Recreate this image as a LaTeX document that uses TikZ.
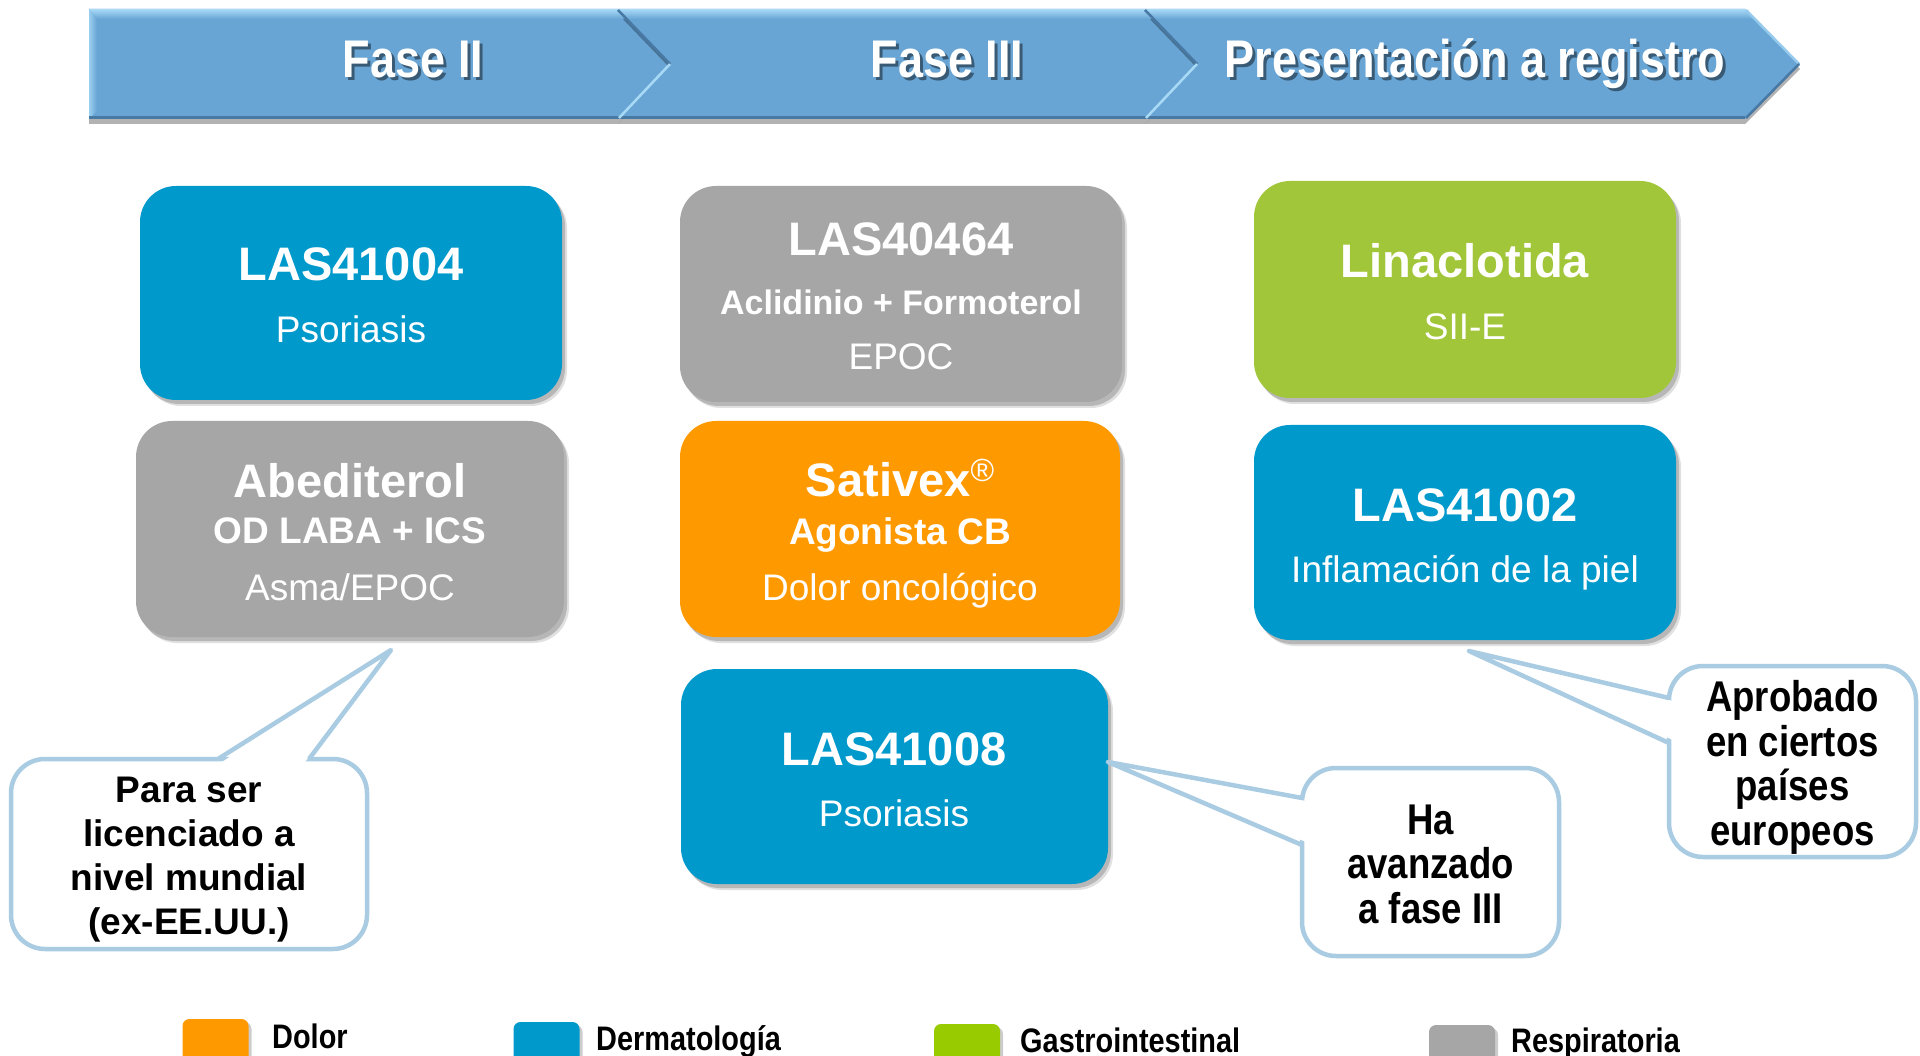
\documentclass[tikz,border=0pt]{standalone}
\usepackage{fontspec}
\setmainfont{Liberation Sans}
\newfontfamily\narrow[FakeStretch=0.85]{Liberation Sans}
\usetikzlibrary{shadows}
\definecolor{bannerblue}{HTML}{68A5D5}
\definecolor{bannerlight}{HTML}{A8DAF6}
\definecolor{bannerdark}{HTML}{4878A4}
\definecolor{derma}{HTML}{0099CC}
\definecolor{resp}{HTML}{A6A6A6}
\definecolor{dolor}{HTML}{FF9900}
\definecolor{gastro}{HTML}{A2C639}
\definecolor{gastroleg}{HTML}{99CC00}
\definecolor{callline}{HTML}{A9CCE3}
\tikzset{
  pbox/.style={rectangle, rounded corners=36pt, inner sep=0pt, draw=none,
    drop shadow={shadow xshift=5pt, shadow yshift=-6pt, opacity=.12, fill=black},
    drop shadow={shadow xshift=3pt, shadow yshift=-4pt, opacity=.18, fill=black}},
  ttl/.style={text=white, font=\fontsize{47}{47}\selectfont\bfseries, inner sep=0pt, text height=34pt, text depth=0pt},
  sbt/.style={text=white, font=\fontsize{37}{37}\selectfont\bfseries, inner sep=0pt, text height=26.5pt, text depth=0pt},
  sbs/.style={text=white, font=\fontsize{34}{34}\selectfont\bfseries, inner sep=0pt, text height=24.5pt, text depth=0pt},
  reg/.style={text=white, font=\fontsize{37}{37}\selectfont, inner sep=0pt, text height=26.5pt, text depth=0pt},
  phase/.style={text=white, font={\narrow\bfseries\fontsize{53}{53}\selectfont}, inner sep=0pt, text height=38pt, text depth=0pt},
  phaseshadow/.style={phase, text=black, opacity=.45},
  callout/.style={rectangle, rounded corners=34pt, draw=callline, line width=4.5pt, fill=white, align=center, inner sep=0pt},
  pointer/.style={draw=callline, line width=4.5pt, line join=round},
  legsq/.style={rectangle, rounded corners=7pt, minimum width=66pt, minimum height=46pt, inner sep=0pt,
    drop shadow={shadow xshift=3pt, shadow yshift=-3pt, opacity=.2, fill=black}},
  legtx/.style={anchor=west, text=black, font={\narrow\bfseries\fontsize{34}{34}\selectfont}, inner sep=0pt, text height=24pt, text depth=0pt},
}
\begin{document}
\begin{tikzpicture}[x=1pt,y=-1pt]
\useasboundingbox (0,0) rectangle (1920,1056);
\clip (0,0) rectangle (1920,1056);
\fill[white] (0,0) rectangle (1920,1056);

% ---------- banner ----------
\path[fill=bannerblue, drop shadow={shadow xshift=0pt, shadow yshift=-5pt, opacity=.3, fill=black}]
  (89,9) -- (618,9) -- (671,64) -- (618,119) -- (89,119) -- cycle;
\path[fill=bannerblue, drop shadow={shadow xshift=0pt, shadow yshift=-5pt, opacity=.3, fill=black}]
  (618,9) -- (1145,9) -- (1198,64) -- (1145,119) -- (618,119) -- (671,64) -- cycle;
\path[fill=bannerblue, drop shadow={shadow xshift=0pt, shadow yshift=-5pt, opacity=.3, fill=black}]
  (1145,9) -- (1745,9) -- (1800,64) -- (1745,119) -- (1145,119) -- (1198,64) -- cycle;
% bevels
\shade[top color=bannerlight, bottom color=bannerblue] (89,9) -- (618,9) -- (628,19) -- (97,19) -- cycle;
\shade[top color=bannerlight, bottom color=bannerblue] (618,9) -- (1145,9) -- (1155,19) -- (628,19) -- cycle;
\shade[top color=bannerlight, bottom color=bannerblue] (1145,9) -- (1745,9) -- (1755,19) -- (1155,19) -- cycle;
\shade[left color=bannerlight!80!bannerblue, right color=bannerblue] (89,9) -- (97,19) -- (97,111) -- (89,119) -- cycle;
\draw[bannerdark, line width=3pt] (89,118) -- (1745,118);
\draw[bannerdark, line width=2.5pt] (618,10) -- (670,64);
\draw[bannerdark, line width=2.5pt] (1145,10) -- (1197,64);
\draw[bannerlight, line width=2.5pt] (670,64) -- (619,118);
\draw[bannerlight, line width=2.5pt] (1197,64) -- (1146,118);
\draw[bannerlight!70!bannerblue, line width=2.5pt] (1746,10) -- (1799,64);
\draw[bannerdark, line width=2.5pt] (1799,64) -- (1746,118);

\node[phaseshadow] (f2s) at (416,62) {Fase II};
\node[phase] (f2) at (413,59) {Fase II};
\node[phaseshadow] (f3s) at (950,62) {Fase III};
\node[phase] (f3) at (947,59) {Fase III};
\node[phaseshadow] (prs) at (1478,62) {Presentación a registro};
\node[phase] (pr) at (1475,59) {Presentación a registro};

% ---------- boxes ----------
\node[pbox, fill=derma, minimum width=422pt, minimum height=214pt] (b41004) at (351,293) {};
\node[pbox, fill=resp, minimum width=428pt, minimum height=216pt] (babe) at (350,529) {};
\node[pbox, fill=resp, minimum width=442pt, minimum height=216pt] (b40464) at (901,294) {};
\node[pbox, fill=dolor, minimum width=440pt, minimum height=216pt] (bsat) at (900,529) {};
\node[pbox, fill=derma, minimum width=427pt, minimum height=215pt] (b41008) at (894.5,776.5) {};
\node[pbox, fill=gastro, minimum width=422pt, minimum height=217pt] (blin) at (1465,289.5) {};
\node[pbox, fill=derma, minimum width=422pt, minimum height=215pt] (b41002) at (1465,532.5) {};

\node[ttl] (t41004) at (351,264) {LAS41004};
\node[reg] (s41004) at (351,329) {Psoriasis};

\node[ttl] (tabe) at (350,480) {Abediterol};
\node[sbt] (uabe) at (350,530) {OD LABA + ICS};
\node[reg] (sabe) at (350,587) {Asma/EPOC};

\node[ttl] (t40464) at (901,239) {LAS40464};
\node[sbs] (u40464) at (901,302) {Aclidinio + Formoterol};
\node[reg] (s40464) at (901,356) {EPOC};

\node[ttl] (tsat) at (900,479) {Sativex\raisebox{14pt}{\fontsize{32}{32}\selectfont\mdseries ®}};
\node[sbt] (usat) at (900,531) {Agonista CB};
\node[reg] (ssat) at (900,587) {Dolor oncológico};

\node[ttl] (t41008) at (894,748) {LAS41008};
\node[reg] (s41008) at (894,813) {Psoriasis};

\node[ttl] (tlin) at (1465,261) {Linaclotida};
\node[reg] (slin) at (1465,326) {SII-E};

\node[ttl] (t41002) at (1465,504) {LAS41002};
\node[reg] (s41002) at (1465,569) {Inflamación de la piel};

% ---------- callouts ----------
\node[callout, minimum width=356pt, minimum height=190pt, font=\fontsize{37}{44}\selectfont\bfseries] (c1) at (189,854)
  {\rule{0pt}{36pt}Para ser\\licenciado a\\nivel mundial\\(ex-EE.UU.)};
\coordinate (tip1) at (391,650);
\fill[white] (222,762) -- (tip1) -- (305,762) -- cycle;
\draw[pointer] (218,759) -- (tip1) -- (309,759);

\node[callout, minimum width=257pt, minimum height=188pt, font={\narrow\bfseries\fontsize{43}{44.5}\selectfont}] (c2) at (1430.5,862)
  {\rule{0pt}{34pt}Ha\\avanzado\\a fase III};
\coordinate (tip2) at (1108,762);
\fill[white] (1306,801) -- (tip2) -- (1306,842) -- cycle;
\draw[pointer] (1302,798) -- (tip2) -- (1302,845);

\node[callout, minimum width=247pt, minimum height=191pt, font={\narrow\bfseries\fontsize{43}{44.5}\selectfont}] (c3) at (1792.5,761.5)
  {\rule{0pt}{43pt}Aprobado\\en ciertos\\países\\europeos};
\coordinate (tip3) at (1469,651);
\fill[white] (1673,701) -- (tip3) -- (1673,740) -- cycle;
\draw[pointer] (1669,698) -- (tip3) -- (1669,743);

% ---------- legend ----------
\node[legsq, fill=dolor] (lg1) at (215.5,1042) {};
\node[legtx] (lt1) at (272,1036) {Dolor};
\node[legsq, fill=derma] (lg2) at (546.5,1045) {};
\node[legtx] (lt2) at (596,1038) {Dermatología};
\node[legsq, fill=gastroleg] (lg3) at (967,1047) {};
\node[legtx] (lt3) at (1020,1040) {Gastrointestinal};
\node[legsq, fill=resp] (lg4) at (1462,1048) {};
\node[legtx] (lt4) at (1511,1040) {Respiratoria};
\end{tikzpicture}
\end{document}
